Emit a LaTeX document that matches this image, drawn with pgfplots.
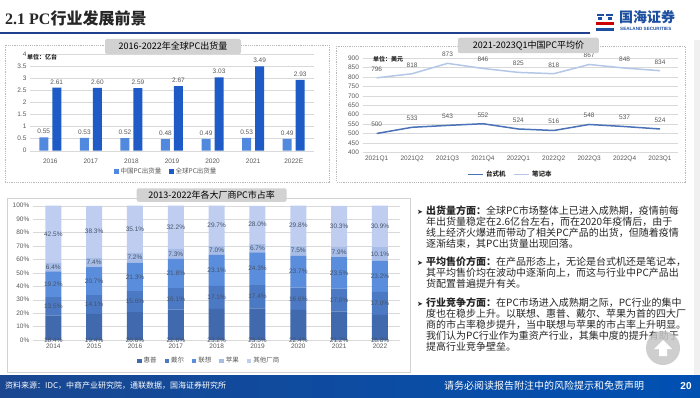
\documentclass[border=0pt]{standalone}
\usepackage{pgfplots}
\pgfplotsset{compat=1.18}
\usepackage{fontspec}
\setmainfont{Liberation Sans}
\newfontfamily\cjk{Noto Sans CJK SC}
\newfontfamily\dejavu{DejaVu Sans}
\newfontfamily\tnr{Liberation Serif}
\newcommand\fs[1]{\fontsize{#1}{#1}\selectfont}
\definecolor{cnbar}{HTML}{5089DD}
\definecolor{glbar}{HTML}{1E5BC6}
\definecolor{desk}{HTML}{4A72B8}
\definecolor{note}{HTML}{B4C7E7}
\definecolor{hp}{HTML}{4169AD}
\definecolor{dell}{HTML}{4C79C4}
\definecolor{lenovo}{HTML}{5B8DDD}
\definecolor{apple}{HTML}{A7BDE8}
\definecolor{other}{HTML}{BFCEF0}
\definecolor{lbl}{HTML}{595959}
\definecolor{seglbl}{HTML}{44546A}
\definecolor{gridc}{HTML}{D9D9D9}
\definecolor{navy}{HTML}{1F3F8F}
\definecolor{logoblue}{HTML}{1D4FA0}
\definecolor{txt}{HTML}{262626}
\pgfplotsset{
 base/.style={scale only axis, anchor=south west, axis lines*=left,
  y axis line style={draw=none}, x axis line style={draw=gridc},
  tick style={draw=none}, ymajorgrids, grid style={gridc, line width=0.4pt},
  tick label style={font=\fs{6.5}, text=lbl},
  /pgf/number format/assume math mode=true,
  legend style={draw=none, fill=none, font=\cjk\fs{6.5}, text=lbl,
   legend columns=-1, /tikz/every even column/.append style={column sep=6pt}},
  clip=false},
 sqlegend/.style={legend image code/.code={\fill[##1, draw=none] (0pt,-2.2pt) rectangle (4.4pt,2.2pt);}},
 calc seg/.code={\pgfkeys{/pgf/fpu=true,/pgf/fpu/output format=fixed}%
   \pgfmathsetmacro\segshift{-0.6715*\pgfplotspointmeta}%
   \pgfkeys{/pgf/fpu=false}}
}
\begin{document}
\begin{tikzpicture}[x=1pt,y=1pt]
\useasboundingbox (0,0) rectangle (700,397);
\fill[white] (0,0) rectangle (700,397);
% header
\node[anchor=west, text=txt, inner sep=0] at (5,379) {\bfseries\tnr\fs{16}2.1 PC\cjk 行业发展前景};
\fill[navy] (0,363) rectangle (590,365);
% logo
\fill[logoblue] (597,381) rectangle (604,383);
\fill[logoblue] (606,381) rectangle (613,383);
\fill[logoblue] (598,377) rectangle (602,380);
\fill[logoblue] (608,377) rectangle (612,380);
\fill[red!80!black] (596,372) rectangle (614,375);
\fill[logoblue] (596,366) rectangle (614,369);
\node[anchor=west, text=logoblue, inner sep=0] at (619,380) {\cjk\bfseries\fs{14}国海证券};
\node[anchor=west, text=logoblue, inner sep=0] at (620,368) {\bfseries\fs{4.6}SEALAND SECURITIES};
% right strip
\fill[gray!12] (694,22) rectangle (700,357);
% panels
\draw[gray!55, dash pattern=on 1.2pt off 1pt] (5,352) rectangle (329,215.3);
\draw[gray!55, dash pattern=on 1.2pt off 1pt] (336,351) rectangle (685,215.3);
\draw[gray!35] (7,199.3) rectangle (410,25.3);
% chart 1
\begin{axis}[base, at={(30pt,246.3pt)}, width=284pt, height=96.7pt,
  ymin=0, ymax=4, ytick={0,0.5,1,1.5,2,2.5,3,3.5,4},
  xmin=-0.5, xmax=6.5, xtick=data,
  xticklabels={2016,2017,2018,2019,2020,2021,2022E},
  ybar=4pt, bar width=9pt, sqlegend,
  nodes near coords={\pgfmathprintnumber[fixed,fixed zerofill,precision=2]{\pgfplotspointmeta}},
  nodes near coords style={font=\fs{6.5}, text=lbl},
  legend style={at={(0.48,-0.217)}, anchor=center}]
\addplot[fill=cnbar, draw=none] coordinates {(0,0.55)(1,0.53)(2,0.52)(3,0.48)(4,0.49)(5,0.53)(6,0.49)};
\addlegendentry{中国PC出货量}
\addplot[fill=glbar, draw=none] coordinates {(0,2.61)(1,2.60)(2,2.59)(3,2.67)(4,3.03)(5,3.49)(6,2.93)};
\addlegendentry{全球PC出货量}
\end{axis}
\node[anchor=west, inner sep=0, text=txt] at (27,340) {\cjk\bfseries\fs{6}单位：亿台};
% chart 2
\begin{axis}[base, at={(362.5pt,244.7pt)}, width=315.2pt, height=94pt,
  ymin=400, ymax=900, ytick={400,450,...,900},
  xmin=-0.4, xmax=8.5, xtick=data,
  xticklabels={2021Q1,2021Q2,2021Q3,2021Q4,2022Q1,2022Q2,2022Q3,2022Q4,2023Q1},
  nodes near coords, nodes near coords style={font=\fs{6.5}, text=lbl, yshift=2.5pt},
  legend style={at={(0.47,-0.234)}, anchor=center, font=\cjk\bfseries\fs{6.5}, text=txt},
  legend image code/.code={\draw[#1] (0pt,0pt) -- (15pt,0pt);}]
\addplot[desk, line width=1.5pt, mark=none] coordinates {(0,500)(1,533)(2,543)(3,552)(4,524)(5,516)(6,548)(7,537)(8,524)};
\addlegendentry{台式机}
\addplot[note, line width=1.5pt, mark=none] coordinates {(0,796)(1,818)(2,873)(3,846)(4,825)(5,818)(6,867)(7,848)(8,834)};
\addlegendentry{笔记本}
\end{axis}
\node[anchor=west, inner sep=0, text=txt] at (373,338) {\cjk\bfseries\fs{6}单位：美元};
% chart 3
\begin{axis}[base, at={(32.9pt,57pt)}, width=367.5pt, height=134.3pt,
  ymin=0, ymax=100, ytick={0,10,...,100},
  yticklabel={\pgfmathprintnumber{\tick}\%},
  xmin=-0.5, xmax=8.5, xtick=data,
  xticklabels={2014,2015,2016,2017,2018,2019,2020,2021,2022},
  ybar stacked, bar width=16pt, sqlegend,
  nodes near coords={\pgfmathprintnumber[fixed,fixed zerofill,precision=1]{\pgfplotspointmeta}\%},
  nodes near coords style={font=\fs{6.5}, text=seglbl, anchor=center},
  legend style={at={(0.48,-0.156)}, anchor=center}]
\addplot[fill=hp, draw=none, every node near coord/.append style={/pgfplots/calc seg, yshift=\segshift pt}] coordinates {(0,18.4)(1,19.4)(2,20.8)(3,22.6)(4,23.2)(5,23.5)(6,22.4)(7,21.2)(8,18.8)};
\addlegendentry{惠普}
\addplot[fill=dell, draw=none] coordinates {(0,13.5)(1,14.1)(2,15.6)(3,16.1)(4,17.1)(5,17.4)(6,16.6)(7,17.0)(8,17.0)};
\addlegendentry{戴尔}
\addplot[fill=lenovo, draw=none] coordinates {(0,19.2)(1,20.7)(2,21.3)(3,21.8)(4,23.1)(5,24.3)(6,23.7)(7,23.5)(8,23.2)};
\addlegendentry{联想}
\addplot[fill=apple, draw=none] coordinates {(0,6.4)(1,7.4)(2,7.2)(3,7.3)(4,7.0)(5,6.7)(6,7.5)(7,7.9)(8,10.1)};
\addlegendentry{苹果}
\addplot[fill=other, draw=none] coordinates {(0,42.5)(1,38.3)(2,35.1)(3,32.2)(4,29.7)(5,28.0)(6,29.8)(7,30.3)(8,30.9)};
\addlegendentry{其他厂商}
\end{axis}
% tabs
\node[fill=gray!35, rounded corners=2pt, minimum width=136pt, minimum height=15pt, inner sep=0, font=\cjk\fs{9}, text=black] at (173,350.5) {2016-2022年全球PC出货量};
\node[fill=gray!35, rounded corners=2pt, minimum width=141pt, minimum height=15.5pt, inner sep=0, font=\cjk\fs{9}, text=black] at (528.4,351.5) {2021-2023Q1中国PC平均价};
\node[fill=gray!35, rounded corners=2pt, minimum width=150pt, minimum height=13.5pt, inner sep=0, font=\cjk\fs{9}, text=black] at (211.7,202) {2013-2022年各大厂商PC市占率};
% text block
\begin{scope}[every node/.style={anchor=base west, inner sep=0, text=txt, font=\cjk\fs{10}}]
\node[font=\dejavu\fs{7}] at (417,182.5) {➤};
\node at (426,182.5) {\bfseries 出货量方面：\mdseries 全球PC市场整体上已进入成熟期，疫情前每};
\node at (426,171.5) {年出货量稳定在2.6亿台左右，而在2020年疫情后，由于};
\node at (426,160.2) {线上经济火爆进而带动了相关PC产品的出货，但随着疫情};
\node at (426,149.2) {逐渐结束，其PC出货量出现回落。};
\node[font=\dejavu\fs{7}] at (417,131.5) {➤};
\node at (426,131.5) {\bfseries 平均售价方面：\mdseries 在产品形态上，无论是台式机还是笔记本，};
\node at (426,120.2) {其平均售价均在波动中逐渐向上，而这与行业中PC产品出};
\node at (426,109.2) {货配置普遍提升有关。};
\node[font=\dejavu\fs{7}] at (417,90.2) {➤};
\node at (426,90.2) {\bfseries 行业竞争方面：\mdseries 在PC市场进入成熟期之际，PC行业的集中};
\node at (426,79.2) {度也在稳步上升。以联想、惠普、戴尔、苹果为首的四大厂};
\node at (426,68.2) {商的市占率稳步提升，当中联想与苹果的市占率上升明显。};
\node at (426,57.2) {我们认为PC行业作为重资产行业，其集中度的提升有助于};
\node at (426,46.2) {提高行业竞争壁垒。};
\end{scope}
% scroll button
\fill[gray!45, opacity=0.85] (663,49) circle (17);
\fill[white] (654,48) -- (663,57) -- (672,48) -- (667,48) -- (667,41) -- (659,41) -- (659,48) -- cycle;
% footer
\shade[left color=logoblue!90!black, right color=blue!55!cyan!70!black] (0,0) rectangle (700,22);
\node[anchor=west, inner sep=0, text=white] at (5,11) {\cjk\fs{8}资料来源：IDC，中商产业研究院，通联数据，国海证券研究所};
\node[anchor=west, inner sep=0, text=white] at (444,11) {\cjk\fs{10}请务必阅读报告附注中的风险提示和免责声明};
\node[anchor=center, inner sep=0, text=white] at (686,11) {\bfseries\fs{10}20};
\end{tikzpicture}
\end{document}
